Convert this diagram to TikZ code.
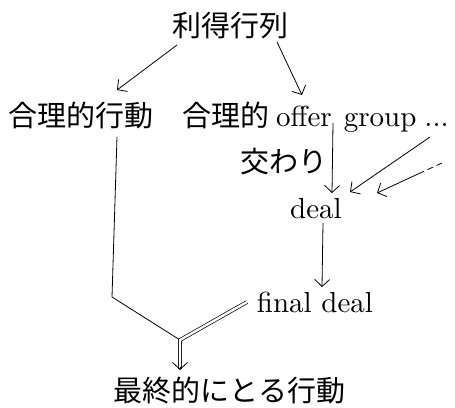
\documentclass[tikz,border=0pt]{standalone}
\usepackage{fontspec}
\setmainfont{lmroman10-regular.otf}
\newfontfamily\jp{Noto Sans CJK JP}
\usetikzlibrary{arrows.meta,calc}
\tikzset{
  lbl/.style={inner sep=2pt, font=\fontsize{29}{34}\selectfont},
  arr/.style={line width=0.8pt, -{Straight Barb[length=7pt,width=15pt,line width=0.8pt]}},
  ln/.style={line width=0.8pt},
  dbl/.style={double, double distance=2.4pt, line width=0.7pt},
}
\begin{document}
\begin{tikzpicture}[x=1pt,y=-1pt]
\useasboundingbox (0,0) rectangle (455,407);
% nodes
\node[lbl, anchor=base] (top) at (230,36) {\jp 利得行列};
\node[lbl, anchor=base west] (r1) at (6,126) {\jp 合理的行動};
\node[lbl, anchor=base west] (og) at (180,126) {{\jp 合理的}\hspace{7pt}offer\hspace{12pt}group\hspace{8pt}...};
\node[lbl, anchor=base] (kw) at (284,172) {\jp 交わり};
\node[lbl, anchor=base] (deal) at (316,218) {deal};
\node[lbl, anchor=base] (fd) at (315,312) {final deal};
\node[lbl, anchor=base] (bt) at (229,401) {\jp 最終的にとる行動};
\coordinate (j) at (180,340);
\coordinate (ds) at (442,163);
\coordinate (dm) at (418,174);
% arrows
\draw[arr] ($(top.base)+(-53,9)$) -- ($(r1.base west)+(111,-36)$);
\draw[arr] ($(top.base)+(47,6)$) -- ($(og.base west)+(122,-31)$);
\draw[arr] ($(og.base west)+(153,-3)$) -- ($(deal.base)+(16,-25)$);
\draw[arr] ($(og.base west)+(250,11)$) -- ($(deal.base)+(34,-26)$);
\draw[ln, dashed, dash pattern=on 6pt off 4pt] (ds) -- (dm);
\draw[arr] (dm) -- ($(deal.base)+(61,-25)$);
\draw[arr] ($(deal.base)+(7,5)$) -- ($(fd.base)+(7,-25)$);
% merge
\draw[ln] ($(r1.base west)+(111,11)$) -- ($(r1.base west)+(106,171)$) -- (j);
\draw[dbl] ($(fd.base)+(-68,-10)$) -- (j) -- ($(bt.base)+(-49,-32)$);
\draw[line width=0.8pt, -{Straight Barb[length=7pt,width=15pt,line width=0.8pt]}] ($(bt.base)+(-49,-34)$) -- ($(bt.base)+(-49,-31)$);
\end{tikzpicture}
\end{document}
